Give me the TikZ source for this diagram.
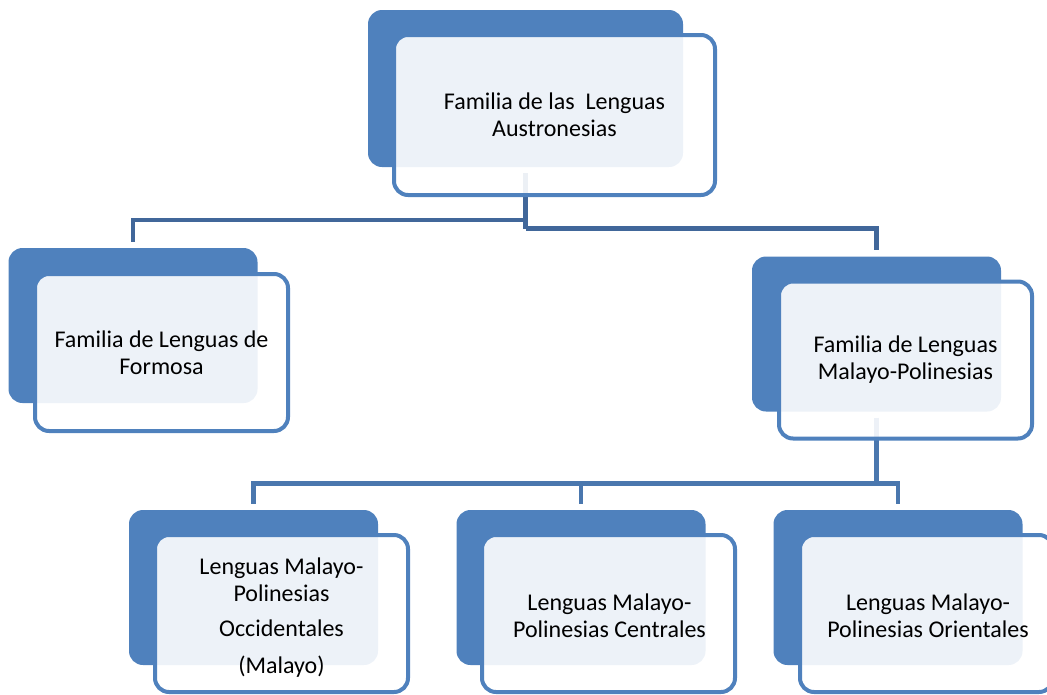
\documentclass[tikz,border=0pt]{standalone}
\usepackage{fontspec}
\setmainfont{Carlito}
\definecolor{bblue}{HTML}{4F81BD}
\definecolor{conn}{HTML}{41679A}
\definecolor{conntwo}{HTML}{4A77AE}
\begin{document}
\begin{tikzpicture}[x=1pt,y=-1pt,
  backbox/.style={fill=bblue, draw=none, rounded corners=14pt, inner sep=0pt},
  frontbox/.style={draw=bblue, line width=4pt, rounded corners=14pt, fill=white, fill opacity=0.9, text opacity=1, inner sep=0pt, align=center, font=\fontsize{24}{27}\selectfont},
  smallback/.style={backbox, minimum width=249pt, minimum height=155pt},
  smallfront/.style={frontbox, minimum width=253pt, minimum height=157pt},
  label/.style={align=center, font=\fontsize{24}{27}\selectfont, inner sep=0pt},
  connector/.style={draw=conn, line width=4.5pt},
  connectortwo/.style={draw=conntwo, line width=4.5pt}]
\useasboundingbox (0,0) rectangle (1047,694);
\clip (0,0) rectangle (1047,694);
% back boxes
\node[backbox, minimum width=315pt, minimum height=157pt] (b1) at (525.5,88.5) {};
\node[smallback] (b2) at (133,325.5) {};
\node[smallback] (b3) at (876.5,334) {};
\node[smallback] (b4) at (253.5,587.5) {};
\node[smallback] (b5) at (581,587.5) {};
\node[smallback] (b6) at (898,587.5) {};
% connectors level 1
\coordinate (t1) at ([yshift=-6pt]b1.south);
\coordinate (j1) at (525.5,220);
\coordinate (j2) at (525.5,228.5);
\coordinate (d2) at ([yshift=6pt]b2.north);
\coordinate (d3) at ([yshift=6pt]b3.north);
\draw[connector] (t1) -- (j2);
\draw[connector] (j1) -| (d2);
\draw[connector] (j2) -| (d3);
% connectors level 2
\coordinate (t3) at ([yshift=-6pt]b3.south);
\coordinate (j3) at (876.5,483.5);
\coordinate (d4) at ([yshift=6pt]b4.north);
\coordinate (d5) at ([yshift=6pt]b5.north);
\coordinate (d6) at ([yshift=6pt]b6.north);
\draw[connectortwo] (t3) -- (j3);
\draw[connectortwo] (d4) |- (j3) -| (d6);
\draw[connectortwo] (d5) -- (d5 |- j3);
% front boxes
\node[frontbox, minimum width=321pt, minimum height=160pt] (f1) at (554.5,115) {Familia de las\ \ Lenguas\\Austronesias};
\node[smallfront] (f2) at (161.5,352.5) {Familia de Lenguas de\\Formosa};
\node[smallfront] (f3) at (905.5,360) {Familia de Lenguas\\Malayo-Polinesias};
\node[smallfront] (f4) at (281.5,613.5) {};
\node[smallfront] (f5) at (608.5,613.5) {};
\node[smallfront] (f6) at (926.5,613.5) {};
\node[label] (t4) at (281.5,618) {Lenguas Malayo-\\Polinesias\\[8pt]Occidentales\\[10pt](Malayo)};
\node[label] (t5) at (609.5,616) {Lenguas Malayo-\\Polinesias Centrales};
\node[label] (t6) at (928,616) {Lenguas Malayo-\\Polinesias Orientales};
\end{tikzpicture}
\end{document}
